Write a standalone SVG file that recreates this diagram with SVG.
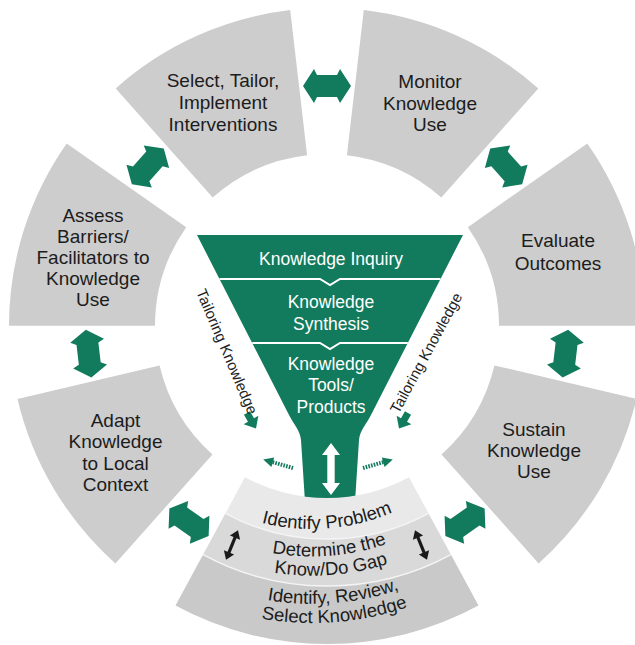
<svg xmlns="http://www.w3.org/2000/svg" xmlns:xlink="http://www.w3.org/1999/xlink" width="635" height="645" viewBox="0 0 635 645">
<style>
.seg{fill:#cdcdcd}
.b1{fill:#e9e9e9}
.b2{fill:#d9d9d9}
.b3{fill:#c9c9c9}
.sep{fill:none;stroke:#f4f4f4;stroke-width:1.5}
.lbl{font-family:"Liberation Sans",Arial,sans-serif;font-size:19px;fill:#1c1c1c;text-anchor:middle}
.blbl{font-family:"Liberation Sans",Arial,sans-serif;font-size:18.5px;fill:#1c1c1c;text-anchor:middle}
.flbl{font-family:"Liberation Sans",Arial,sans-serif;font-size:17.5px;fill:#ffffff;text-anchor:middle}
.tk{font-family:"Liberation Sans",Arial,sans-serif;font-size:15px;fill:#222;text-anchor:middle}
.green{fill:#127b5d}
.div{fill:none;stroke:#ffffff;stroke-width:2}
.dots{stroke:#127b5d;stroke-width:4;stroke-dasharray:1.6 1.2;fill:none}
</style>
<defs>
<polygon id="bigArrow" points="-24,0 -13,-17 -10,-11 10,-11 13,-17 24,0 13,17 10,11 -10,11 -13,17"/>
<polygon id="blkArrow" points="-16,0 -8,-5.5 -8,-1.6 8,-1.6 8,-5.5 16,0 8,5.5 8,1.6 -8,1.6 -8,5.5"/>
<polygon id="smArrow" points="0,-3.5 8,-3.5 8,-8.5 18,0 8,8.5 8,3.5 0,3.5"/>
<path id="tp1" d="M 180.2,480.4 A 203 203 0 0 0 466.4,457.8"/>
<path id="tp2" d="M 162.6,500.9 A 229 229 0 0 0 486.9,475.4"/>
<path id="tp3" d="M 149.6,516.1 A 251 251 0 0 0 502.1,488.4"/>
<path id="tp4" d="M 132.1,536.6 A 275 275 0 0 0 522.6,505.9"/>
<path id="tp5" d="M 119.1,551.8 A 297 297 0 0 0 537.8,518.9"/>
</defs>

<g id="node-select">
<path class="seg" d="M 115.7,88.4 A 318 318 0 0 1 290.2,10.1 L 307.1,155.2 A 172 172 0 0 0 212.7,197.5 Z"/>
<text class="lbl"><tspan x="223" y="87">Select, Tailor,</tspan><tspan x="223" y="109">Implement</tspan><tspan x="223" y="131">Interventions</tspan></text>
</g>
<g id="node-monitor">
<path class="seg" d="M 363.8,10.1 A 318 318 0 0 1 538.3,88.4 L 441.3,197.5 A 172 172 0 0 0 346.9,155.2 Z"/>
<text class="lbl"><tspan x="430" y="88">Monitor</tspan><tspan x="430" y="110">Knowledge</tspan><tspan x="430" y="131">Use</tspan></text>
</g>
<g id="node-evaluate">
<path class="seg" d="M 587.3,143.4 A 318 318 0 0 1 645,325.7 L 499,325.8 A 172 172 0 0 0 467.8,227.2 Z"/>
<text class="lbl"><tspan x="558" y="247">Evaluate</tspan><tspan x="558" y="270">Outcomes</tspan></text>
</g>
<g id="node-sustain">
<path class="seg" d="M 636.5,398.9 A 318 318 0 0 1 538.6,563.4 L 441.5,454.4 A 172 172 0 0 0 494.4,365.4 Z"/>
<text class="lbl"><tspan x="534" y="436">Sustain</tspan><tspan x="534" y="457">Knowledge</tspan><tspan x="534" y="478">Use</tspan></text>
</g>
<g id="node-adapt">
<path class="seg" d="M 115.4,563.4 A 318 318 0 0 1 17.5,398.9 L 159.6,365.4 A 172 172 0 0 0 212.5,454.4 Z"/>
<text class="lbl"><tspan x="115.5" y="427">Adapt</tspan><tspan x="115.5" y="448">Knowledge</tspan><tspan x="115.5" y="470">to Local</tspan><tspan x="115.5" y="491">Context</tspan></text>
</g>
<g id="node-assess">
<path class="seg" d="M 9,325.7 A 318 318 0 0 1 66.7,143.4 L 186.2,227.2 A 172 172 0 0 0 155,325.8 Z"/>
<text class="lbl"><tspan x="93" y="222">Assess</tspan><tspan x="93" y="243">Barriers/</tspan><tspan x="93" y="264">Facilitators to</tspan><tspan x="93" y="285">Knowledge</tspan><tspan x="93" y="306">Use</tspan></text>
</g>

<g id="node-funnel">
<path class="green" d="M 197,235 L 463,235 L 372,413 C 366,425 360,430 359,440 L 355,502 L 305,502 L 301,440 C 300,430 294,425 288,413 Z"/>
<path class="div" d="M 219.5,279 L 320,279 L 330,285 L 340,279 L 440.5,279"/>
<path class="div" d="M 252.2,343 L 320,343 L 330,349 L 340,343 L 407.8,343"/>
<g id="node-inquiry"><text class="flbl" x="331" y="265">Knowledge Inquiry</text></g>
<g id="node-synthesis"><text class="flbl"><tspan x="331" y="308">Knowledge</tspan><tspan x="331" y="330">Synthesis</tspan></text></g>
<g id="node-tools"><text class="flbl"><tspan x="331" y="370">Knowledge</tspan><tspan x="331" y="391">Tools/</tspan><tspan x="331" y="413">Products</tspan></text></g>
</g>

<g id="node-identify">
<path class="b3" d="M 478.5,605.6 A 318 318 0 0 1 175.5,605.6 L 203.1,554.6 A 260 260 0 0 0 450.9,554.6 Z"/>
<path class="b2" d="M 450.9,554.6 A 260 260 0 0 1 203.1,554.6 L 225.5,513.3 A 213 213 0 0 0 428.5,513.3 Z"/>
<path class="b1" d="M 428.5,513.3 A 213 213 0 0 1 225.5,513.3 L 245,477.2 A 172 172 0 0 0 409,477.2 Z"/>
<path class="sep" d="M 428.5,513.3 A 213 213 0 0 1 225.5,513.3"/>
<path class="sep" d="M 450.9,554.6 A 260 260 0 0 1 203.1,554.6"/>
<text class="blbl"><textPath xlink:href="#tp1" href="#tp1" startOffset="50%">Identify Problem</textPath></text>
<text class="blbl"><textPath xlink:href="#tp2" href="#tp2" startOffset="50%">Determine the</textPath></text>
<text class="blbl"><textPath xlink:href="#tp3" href="#tp3" startOffset="50%">Know/Do Gap</textPath></text>
<text class="blbl"><textPath xlink:href="#tp4" href="#tp4" startOffset="50%">Identify, Review,</textPath></text>
<text class="blbl"><textPath xlink:href="#tp5" href="#tp5" startOffset="50%">Select Knowledge</textPath></text>
</g>

<g id="connectors">
<use href="#bigArrow" xlink:href="#bigArrow" class="green" transform="translate(327,86)"/>
<use href="#bigArrow" xlink:href="#bigArrow" class="green" transform="translate(506.2,166.4) rotate(48.3)"/>
<use href="#bigArrow" xlink:href="#bigArrow" class="green" transform="translate(565.4,353.6) rotate(96.6)"/>
<use href="#bigArrow" xlink:href="#bigArrow" class="green" transform="translate(465,522.3) rotate(144.9)"/>
<use href="#bigArrow" xlink:href="#bigArrow" class="green" transform="translate(189,522.3) rotate(35.1)"/>
<use href="#bigArrow" xlink:href="#bigArrow" class="green" transform="translate(88.6,353.6) rotate(83.4)"/>
<use href="#bigArrow" xlink:href="#bigArrow" class="green" transform="translate(147.8,166.4) rotate(-48.3)"/>
<polygon fill="#ffffff" points="331,443 340,455 334.7,455 334.7,483 340,483 331,495 322,483 327.3,483 327.3,455 322,455"/>
<use href="#smArrow" xlink:href="#smArrow" class="green" transform="translate(247,413) rotate(60)"/>
<use href="#smArrow" xlink:href="#smArrow" class="green" transform="translate(408,413) rotate(120)"/>
<g transform="translate(293,468) rotate(196)"><line class="dots" x1="0" y1="0" x2="22" y2="0"/><polygon class="green" points="21,-5 31,0 21,5"/></g>
<g transform="translate(363,468) rotate(-16)"><line class="dots" x1="0" y1="0" x2="22" y2="0"/><polygon class="green" points="21,-5 31,0 21,5"/></g>
<use href="#blkArrow" xlink:href="#blkArrow" fill="#1a1a1a" transform="translate(232,545) rotate(-68)"/>
<use href="#blkArrow" xlink:href="#blkArrow" fill="#1a1a1a" transform="translate(421,545) rotate(-112)"/>
<text class="tk" transform="translate(227,351.5) rotate(67)" dy="0.35em">Tailoring Knowledge</text>
<text class="tk" transform="translate(426,353) rotate(-61.5)" dy="0.35em">Tailoring Knowledge</text>
</g>
</svg>
